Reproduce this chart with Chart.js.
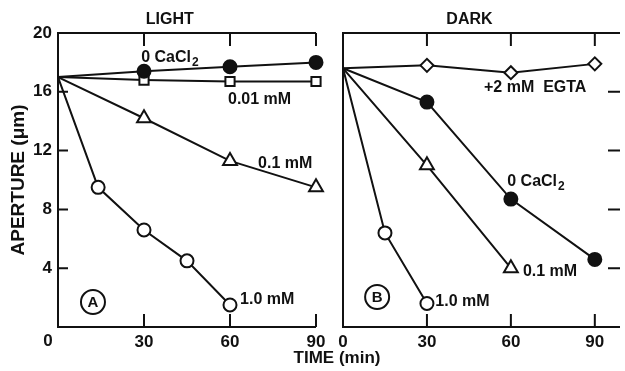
<!DOCTYPE html>
<html>
<head>
<meta charset="utf-8">
<script src="https://cdn.jsdelivr.net/npm/chart.js@4.4.0/dist/chart.umd.min.js"></script>
<style>
	html, body { margin: 0; padding: 0; background: #fff; overflow: hidden; }
	#wrap { position: relative; width: 625px; height: 371px; }
	canvas { position: absolute; top: 0; }
	#chartA { left: 0; }
	#chartB { left: 330px; }
</style>
</head>
<body>
<div id="wrap">
	<canvas id="chartA" width="400" height="371"></canvas>
	<canvas id="chartB" width="300" height="371"></canvas>
</div>
<script>
// --- DONNÉES --- //
// Panel A : lumière
const lightTime = [0, 30, 60, 90];
const lightCa0 = [17.0, 17.4, 17.7, 18.0];
const lightCa001 = [17.0, 16.8, 16.7, 16.7];
const lightCa01 = [17.0, 14.2, 11.3, 9.5];
const lightTime1 = [0, 14, 30, 45, 60];
const lightCa1 = [17.0, 9.5, 6.6, 4.5, 1.5];

// Panel B : obscurité
const darkTime = [0, 30, 60, 90];
const darkEgta = [17.6, 17.8, 17.3, 17.9];
const darkCa0 = [17.6, 15.3, 8.7, 4.6];
const darkTime01 = [0, 30, 60];
const darkCa01 = [17.6, 11.0, 4.0];
const darkTime1 = [0, 15, 30];
const darkCa1 = [17.6, 6.4, 1.6];

const xTickValues = [30, 60, 90];
const xLabelValues = [0, 30, 60, 90];
const yTickValues = [4, 8, 12, 16];

// étiquettes (coordonnées en unités de données)
const labelsA = [
	{ t: '0 CaCl', sub: '2', x: 29, y: 18.3 },
	{ t: '0.01 mM', x: 59.3, y: 15.5 },
	{ t: '0.1 mM', x: 69.8, y: 11.15 },
	{ t: '1.0 mM', x: 63.5, y: 1.84 }
];
const labelsB = [
	{ t: '+2 mM  EGTA', x: 50.4, y: 16.26 },
	{ t: '0 CaCl', sub: '2', x: 58.7, y: 9.86 },
	{ t: '0.1 mM', x: 64.3, y: 3.74 },
	{ t: '1.0 mM', x: 33.0, y: 1.7 }
];

const INK = '#111';
const FONT = '"Liberation Sans", Arial, sans-serif';

const pts = (xs, ys) => xs.map((x, i) => ({ x, y: ys[i] }));

function series(xs, ys, style, r, filled) {
	return {
		data: pts(xs, ys),
		showLine: true,
		borderColor: INK,
		borderWidth: 2,
		tension: 0,
		clip: false,
		pointStyle: style,
		pointRadius: c => c.dataIndex === 0 ? 0 : r,
		pointBorderWidth: 2,
		pointBorderColor: INK,
		pointBackgroundColor: filled ? INK : '#fff'
	};
}

// --- CADRE, GRADUATIONS ET TEXTES --- //
const framePlugin = {
	id: 'frame',
	beforeDatasetsDraw(chart, args, o) {
		const { ctx, chartArea: a, scales: { x, y } } = chart;
		ctx.save();
		ctx.strokeStyle = INK;
		ctx.lineWidth = 2;
		ctx.beginPath();
		ctx.moveTo(a.right, a.top);
		ctx.lineTo(a.left, a.top);
		ctx.lineTo(a.left, a.bottom);
		ctx.lineTo(a.right, a.bottom);
		xTickValues.forEach(v => {
			const px = x.getPixelForValue(v);
			ctx.moveTo(px, a.top); ctx.lineTo(px, a.top + 13);
			ctx.moveTo(px, a.bottom); ctx.lineTo(px, a.bottom - 13);
		});
		yTickValues.forEach(v => {
			const py = y.getPixelForValue(v);
			if (o.rightTicks) { ctx.moveTo(a.right, py); ctx.lineTo(a.right - 12, py); }
			else { ctx.moveTo(a.left, py); ctx.lineTo(a.left + 10, py); }
		});
		ctx.stroke();
		ctx.restore();
	},
	afterDatasetsDraw(chart, args, o) {
		const { ctx, chartArea: a, scales: { x, y } } = chart;
		ctx.save();
		ctx.fillStyle = INK;
		ctx.textBaseline = 'middle';

		// titre
		ctx.font = `bold 16px ${FONT}`;
		ctx.textAlign = 'center';
		ctx.fillText(o.title, x.getPixelForValue(o.titleX), a.top - 13);

		// étiquettes des courbes
		ctx.textAlign = 'left';
		o.labels.forEach(l => {
			const px = x.getPixelForValue(l.x), py = y.getPixelForValue(l.y);
			ctx.font = `bold 16px ${FONT}`;
			ctx.fillText(l.t, px, py);
			if (l.sub) {
				const w = ctx.measureText(l.t).width;
				ctx.font = `bold 12px ${FONT}`;
				ctx.fillText(l.sub, px + w + 1, py + 5);
			}
		});

		// lettre cerclée
		const cx = x.getPixelForValue(12.2), cy = y.getPixelForValue(o.letterY);
		ctx.lineWidth = 2;
		ctx.strokeStyle = INK;
		ctx.beginPath();
		ctx.arc(cx, cy, 12, 0, Math.PI * 2);
		ctx.stroke();
		ctx.font = `bold 15px ${FONT}`;
		ctx.textAlign = 'center';
		ctx.fillText(o.letter, cx, cy + 1);

		if (o.origin) {
			ctx.font = `bold 17px ${FONT}`;
			ctx.fillText('0', x.getPixelForValue(0) - 10, y.getPixelForValue(0) + 14);
			ctx.fillText('TIME (min)', 337, 358);
		}
		ctx.restore();
	}
};

function makeChart(id, datasets, o) {
	return new Chart(document.getElementById(id), {
		type: 'scatter',
		data: { datasets },
		plugins: [framePlugin],
		options: {
			responsive: false,
			animation: false,
			events: [],
			layout: { padding: { top: 33, right: o.padRight, left: 0, bottom: 0 } },
			plugins: { legend: false, tooltip: false, frame: o.frame },
			scales: {
				x: {
					type: 'linear', min: 0, max: o.xMax,
					border: { display: false },
					grid: { display: false, drawTicks: false },
					afterBuildTicks: s => { s.ticks = xLabelValues.map(value => ({ value })); },
					afterFit: s => { s.height = 44; },
					ticks: {
						padding: 5, color: INK, maxRotation: 0, autoSkip: false,
						font: { family: FONT, size: 17, weight: 'bold' },
						callback: v => (o.hideX0 && v === 0) ? '' : v
					}
				},
				y: {
					min: 0, max: 20,
					border: { display: false },
					grid: { display: false, drawTicks: false },
					afterFit: s => { s.width = o.yWidth; },
					ticks: {
						display: o.yLabels, stepSize: 4, padding: 6, color: INK,
						font: { family: FONT, size: 17, weight: 'bold' },
						callback: v => v === 0 ? '' : v
					},
					title: {
						display: o.yLabels, text: 'APERTURE (μm)', color: INK,
						padding: { top: 7, bottom: 0 },
						font: { family: FONT, size: 19, weight: 'bold' }
					}
				}
			}
		}
	});
}

makeChart('chartA', [
	series(lightTime, lightCa0, 'circle', 6.5, true),
	series(lightTime, lightCa001, 'rect', 6.5, false),
	series(lightTime, lightCa01, 'triangle', 8, false),
	series(lightTime1, lightCa1, 'circle', 6.5, false)
], {
	xMax: 90, padRight: 84, yWidth: 58, yLabels: true, hideX0: true,
	frame: { title: 'LIGHT', titleX: 39, labels: labelsA, letter: 'A', letterY: 1.7, origin: true }
});

makeChart('chartB', [
	series(darkTime, darkEgta, 'rectRot', 6.5, false),
	series(darkTime, darkCa0, 'circle', 6.5, true),
	series(darkTime01, darkCa01, 'triangle', 8, false),
	series(darkTime1, darkCa1, 'circle', 6.5, false)
], {
	xMax: 99, padRight: 2, yWidth: 13, yLabels: false, hideX0: false,
	frame: { title: 'DARK', titleX: 45.2, labels: labelsB, letter: 'B', letterY: 2.04, rightTicks: true }
});
</script>
</body>
</html>
